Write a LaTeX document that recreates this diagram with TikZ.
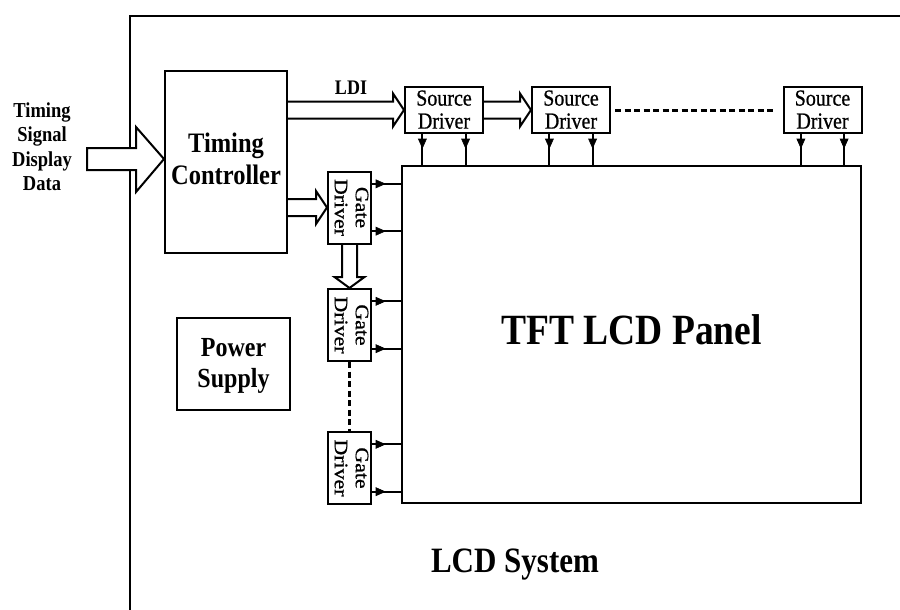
\documentclass[tikz,border=0pt]{standalone}
\usepackage{fontspec}
\setmainfont{Liberation Serif}
\newfontfamily\drvfont[FakeBold=0.8]{Liberation Serif}
\usepackage{graphicx}
\usetikzlibrary{calc}
\newcommand\vtxt[1]{\scalebox{1}[1.15]{\begin{tabular}{@{}c@{}}#1\end{tabular}}}
\newcommand\gtxt[1]{\rotatebox{-90}{\scalebox{1.15}[1]{\begin{tabular}{@{}c@{}}#1\end{tabular}}}}
\newcommand\dblH[2]{%
  \draw[fat] ($(#1)+(0,-8.5)$) -- ($(#2)+(-11,-8.5)$) -- ($(#2)+(-11,-16.5)$) -- (#2)
    -- ($(#2)+(-11,16.5)$) -- ($(#2)+(-11,8.5)$) -- ($(#1)+(0,8.5)$);}
\begin{document}
\begin{tikzpicture}[x=1pt,y=-1pt,
  box/.style={draw, line width=2pt, inner sep=0pt, fill=white},
  srcbox/.style={box, minimum width=78pt, minimum height=46pt, font=\drvfont\fontsize{20}{20}\selectfont},
  gatebox/.style={box, minimum width=43pt, minimum height=72pt, font=\drvfont\fontsize{19}{21}\selectfont},
  wire/.style={line width=2pt},
  fat/.style={line width=2pt, line join=miter},
  sig/.style={line width=2pt},
  headfill/.style={fill=black, draw=black, line width=0.6pt, line join=miter},
  dots/.style={line width=3pt, dash pattern=on 6pt off 3.5pt}
]
\useasboundingbox (0,0) rectangle (900,610);

% outer frame
\draw[wire] (130,615) -- (130,16) -- (905,16);

% blocks
\node[box, minimum width=122pt, minimum height=182pt,
      font=\fontsize{24.5}{28.5}\selectfont\bfseries] (tc) at (226,162) {\vtxt{Timing\\Controller}};
\node[srcbox] (sd1) at (444,110) {\raisebox{-2.5pt}[\height][\depth]{\vtxt{Source\\Driver}}};
\node[srcbox] (sd2) at (571,110) {\raisebox{-2.5pt}[\height][\depth]{\vtxt{Source\\Driver}}};
\node[srcbox] (sd3) at (822.5,110) {\raisebox{-2.5pt}[\height][\depth]{\vtxt{Source\\Driver}}};
\node[box, minimum width=459pt, minimum height=337pt,
      font=\fontsize{37.5}{45}\selectfont\bfseries] (panel) at (631.5,334.5) {\vtxt{TFT LCD Panel}};
\node[gatebox] (gd1) at (349.5,207.5) {\gtxt{Gate\\Driver}};
\node[gatebox] (gd2) at (349.5,325) {\gtxt{Gate\\Driver}};
\node[gatebox] (gd3) at (349.5,468) {\gtxt{Gate\\Driver}};
\node[box, minimum width=113pt, minimum height=92pt,
      font=\fontsize{24}{27}\selectfont\bfseries] (ps) at (233.5,364) {\raisebox{-2pt}[\height][\depth]{\vtxt{Power\\Supply}}};

% labels
\node[font=\fontsize{31}{37}\selectfont\bfseries] (sys) at (515,563.5) {\vtxt{LCD System}};
\node[font=\fontsize{18}{21.6}\selectfont\bfseries] (ldi) at (351,90) {\vtxt{LDI}};
\node[font=\fontsize{18.5}{21.3}\selectfont\bfseries] (inp) at (42,149) {\vtxt{Timing\\Signal\\Display\\Data}};

% input fat arrow
\coordinate (tin) at ($(tc.west)+(0,-3)$);
\draw[fat, fill=white] (87,148) -- (136,148) -- (136,127) -- (tin) -- (136,192) -- (136,170) -- (87,170) -- cycle;

% double-line arrows
\coordinate (a1) at (tc.east |- sd1.west);
\dblH{a1}{sd1.west}
\dblH{sd1.east}{sd2.west}
\coordinate (a3) at (tc.east |- gd1.west);
\dblH{a3}{gd1.west}
\draw[fat] ($(gd1.south)+(-7.5,0)$) -- ($(gd2.north)+(-7.5,-11)$) -- ($(gd2.north)+(-15,-11)$) -- (gd2.north)
  -- ($(gd2.north)+(15,-11)$) -- ($(gd2.north)+(7.5,-11)$) -- ($(gd1.south)+(7.5,0)$);

% continuation dashes
\draw[dots] ($(sd2.east)+(4,0)$) -- ($(sd3.west)+(-6,0)$);
\draw[dots] (gd2.south) -- (gd3.north);

% source driver outputs
\foreach \s in {sd1,sd2,sd3}{
  \foreach \f in {0.23,0.77}{
    \coordinate (t) at ($(\s.south west)!\f!(\s.south east)$);
    \draw[sig] (t) -- (t |- panel.north);
    \path[headfill] ($(t)+(-4,5)$) -- ($(t)+(4,5)$) -- ($(t)+(0,14)$) -- cycle;
  }
}
% gate driver outputs
\foreach \g in {gd1,gd2,gd3}{
  \foreach \f in {0.18,0.82}{
    \coordinate (t) at ($(\g.north east)!\f!(\g.south east)$);
    \draw[sig] (t) -- (t -| panel.west);
    \path[headfill] ($(t)+(4,-4)$) -- ($(t)+(4,4)$) -- ($(t)+(13,0)$) -- cycle;
  }
}
\end{tikzpicture}
\end{document}
